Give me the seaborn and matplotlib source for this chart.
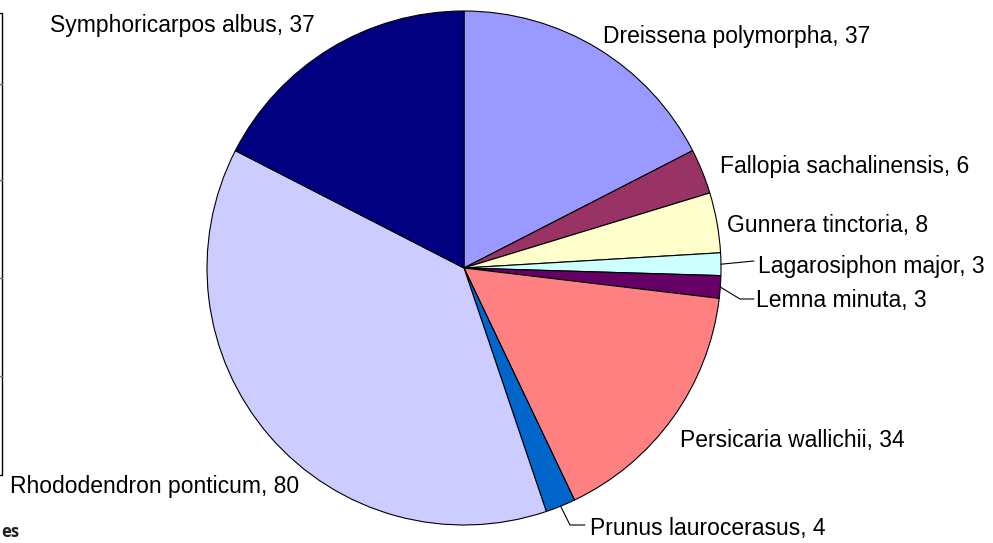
import numpy as np
import matplotlib
matplotlib.use("Agg")
import matplotlib.pyplot as plt
import seaborn as sns

species = ["Dreissena polymorpha", "Fallopia sachalinensis", "Gunnera tinctoria",
           "Lagarosiphon major", "Lemna minuta", "Persicaria wallichii",
           "Prunus laurocerasus", "Rhododendron ponticum", "Symphoricarpos albus"]
counts = [37, 6, 8, 3, 3, 34, 4, 80, 37]
colors = ["#9999FF", "#993366", "#FFFFCC", "#CCFFFF", "#660066", "#FF8080",
          "#0066CC", "#CCCCFF", "#000080"]

sns.set_style("white")
plt.rcParams['font.family'] = ['Liberation Sans', 'DejaVu Sans']

W, H = 993, 543
fig = plt.figure(figsize=(W / 100, H / 100), dpi=100)
cx, cy, R = 464, 268, 257
ax = fig.add_axes([(cx - R) / W, (H - cy - R) / H, 2 * R / W, 2 * R / H])
wedges, _ = ax.pie(counts, colors=colors, startangle=90, counterclock=False,
                   radius=1.0, wedgeprops=dict(edgecolor="black", linewidth=0.8))
ax.set_xlim(-1, 1)
ax.set_ylim(-1, 1)
ax.axis("off")

def px2data(px, py):
    return (px - cx) / R, (cy - py) / R

# label layout: (left x px, baseline y px, leader points px or None)
layout = {
    "Dreissena polymorpha": (603, 43, None),
    "Fallopia sachalinensis": (720, 173, None),
    "Gunnera tinctoria": (727, 232, None),
    "Lagarosiphon major": (758, 273, [(754, 261)]),
    "Lemna minuta": (756, 307, [(740, 299), (754, 299)]),
    "Persicaria wallichii": (680, 447, None),
    "Prunus laurocerasus": (590, 535, [(570, 525), (585, 525)]),
    "Rhododendron ponticum": (10, 493, None),
    "Symphoricarpos albus": (50, 32, None),
}

for w, name, val in zip(wedges, species, counts):
    x, y, leader = layout[name]
    fig.text(x / W, (H - y) / H, f"{name}, {val}", fontsize=16.5,
             ha="left", va="baseline", color="black")
    if leader:
        mid = np.deg2rad((w.theta1 + w.theta2) / 2)
        pts = [(np.cos(mid), np.sin(mid))] + [px2data(*p) for p in leader]
        xs, ys = zip(*pts)
        ax.plot(xs, ys, color="black", linewidth=0.8, clip_on=False)

# cropped neighbouring frame on the left edge
fig.add_artist(plt.Line2D([0, 2 / W, 2 / W, 0],
                          [(H - 13) / H, (H - 13) / H, (H - 475) / H, (H - 475) / H],
                          color="black", linewidth=1.0))
for ty in [84, 180, 278, 376]:
    fig.add_artist(plt.Line2D([0, 2 / W], [(H - ty) / H] * 2, color="#4a8a3a", linewidth=1.0))
fig.text(1 / W, 2 / H, "es", fontsize=12, fontweight="bold", color="#222222",
         ha="left", va="bottom", family=["Open Sans", "DejaVu Sans"])

fig.savefig("out.png", dpi=100)
